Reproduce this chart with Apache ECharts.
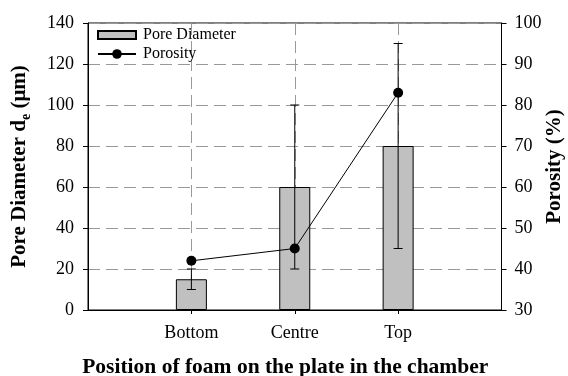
<!DOCTYPE html>
<html>
<head>
<meta charset="utf-8">
<script src="https://cdn.jsdelivr.net/npm/echarts@6/dist/echarts.min.js"></script>
<style>html,body{margin:0;padding:0;background:#fff}#c{width:568px;height:376px}</style>
</head>
<body>
<div id="c"></div>
<script>
var categories = ['Bottom', 'Centre', 'Top'];
var poreDiameter = [15, 60, 80];
var poreError = [5, 40, 50];
var porosity = [42, 45, 83];
var leftTicks = [0, 20, 40, 60, 80, 100, 120, 140];
var rightTicks = [30, 40, 50, 60, 70, 80, 90, 100];

var FONT = 'Liberation Serif';
var axisData = [''].concat(categories).concat(['']);
function pad(arr) { return [null].concat(arr).concat([null]); }
var errData = categories.map(function (c, i) {
  return [i + 1, poreDiameter[i] - poreError[i], poreDiameter[i] + poreError[i]];
});
var inner = function (idx) { return idx >= 1 && idx <= categories.length; };
var legendText = { fontFamily: FONT, fontSize: 16, color: '#000', padding: [0, 0, 0, 2] };

var chart = echarts.init(document.getElementById('c'), null, { renderer: 'canvas' });
chart.setOption({
  animation: false,
  textStyle: { fontFamily: FONT },
  grid: { left: 88, right: 66.5, top: 23, bottom: 66, show: true, borderColor: '#000', borderWidth: 1, backgroundColor: 'transparent', containLabel: false, outerBoundsMode: 'none' },
  legend: [{
    left: 97, top: 27, padding: 0, itemWidth: 38, itemHeight: 8, itemGap: 0,
    textStyle: legendText,
    data: [{ name: 'Pore Diameter', icon: 'rect' }]
  }, {
    left: 97, top: 46, padding: 0, itemWidth: 38, itemHeight: 12, itemGap: 0,
    textStyle: legendText,
    data: ['Porosity']
  }],
  xAxis: {
    type: 'category', data: axisData, boundaryGap: false,
    axisLine: { lineStyle: { color: '#000', width: 1 } },
    axisTick: { show: true, length: 4, interval: function (i) { return inner(i); }, lineStyle: { color: '#000' } },
    axisLabel: { interval: 0, fontFamily: FONT, fontSize: 18, color: '#000', margin: 14 },
    splitLine: { show: true, interval: function (i) { return inner(i); }, lineStyle: { color: '#999', type: [12, 6], width: 1 } },
    name: 'Position of foam on the plate in the chamber', nameLocation: 'middle', nameGap: 46, nameMoveOverlap: false,
    nameTextStyle: { fontFamily: FONT, fontSize: 21.5, fontWeight: 'bold', color: '#000', padding: [0, 19, 0, 0] }
  },
  yAxis: [{
    type: 'value', min: leftTicks[0], max: leftTicks[leftTicks.length - 1], interval: 20,
    axisLine: { show: true, lineStyle: { color: '#000' } },
    axisTick: { show: true, length: 5, lineStyle: { color: '#000' } },
    axisLabel: { fontFamily: FONT, fontSize: 18, color: '#000', margin: 14 },
    splitLine: { show: true, lineStyle: { color: '#999', type: [12, 6], width: 1 } },
    name: 'Pore Diameter d{sub|e} (μm)', nameLocation: 'middle', nameGap: 55, nameMoveOverlap: false,
    nameTextStyle: {
      fontFamily: FONT, fontSize: 21, fontWeight: 'bold', color: '#000', lineHeight: 26,
      rich: { sub: { fontFamily: FONT, fontSize: 14, fontWeight: 'bold', color: '#000', verticalAlign: 'bottom', lineHeight: 13 } }
    }
  }, {
    type: 'value', min: rightTicks[0], max: rightTicks[rightTicks.length - 1], interval: 10, position: 'right',
    axisLine: { show: true, lineStyle: { color: '#000' } },
    axisTick: { show: true, length: 5, lineStyle: { color: '#000' } },
    axisLabel: { fontFamily: FONT, fontSize: 18, color: '#000', margin: 13 },
    splitLine: { show: false },
    name: 'Porosity (%)', nameLocation: 'middle', nameGap: 43, nameMoveOverlap: false,
    nameTextStyle: { fontFamily: FONT, fontSize: 21, fontWeight: 'bold', color: '#000' }
  }],
  series: [{
    name: 'Pore Diameter', type: 'bar', data: pad(poreDiameter), barWidth: 31, yAxisIndex: 0,
    itemStyle: { color: '#c0c0c0', borderColor: '#000', borderWidth: 1 }
  }, {
    name: 'errors', type: 'custom', yAxisIndex: 0, data: errData, z: 5,
    renderItem: function (params, api) {
      var x = api.value(0);
      var lo = api.coord([x, api.value(1)]);
      var hi = api.coord([x, api.value(2)]);
      var w = 4.5;
      var st = { stroke: '#000', lineWidth: 1 };
      return { type: 'group', children: [
        { type: 'line', shape: { x1: lo[0], y1: lo[1], x2: hi[0], y2: hi[1] }, style: st },
        { type: 'line', shape: { x1: lo[0] - w, y1: lo[1], x2: lo[0] + w, y2: lo[1] }, style: st },
        { type: 'line', shape: { x1: hi[0] - w, y1: hi[1], x2: hi[0] + w, y2: hi[1] }, style: st }
      ] };
    }
  }, {
    name: 'Porosity', type: 'line', yAxisIndex: 1, data: pad(porosity), z: 6,
    symbol: 'circle', symbolSize: 10,
    lineStyle: { color: '#000', width: 1 },
    itemStyle: { color: '#000' }
  }]
});
</script>
</body>
</html>
